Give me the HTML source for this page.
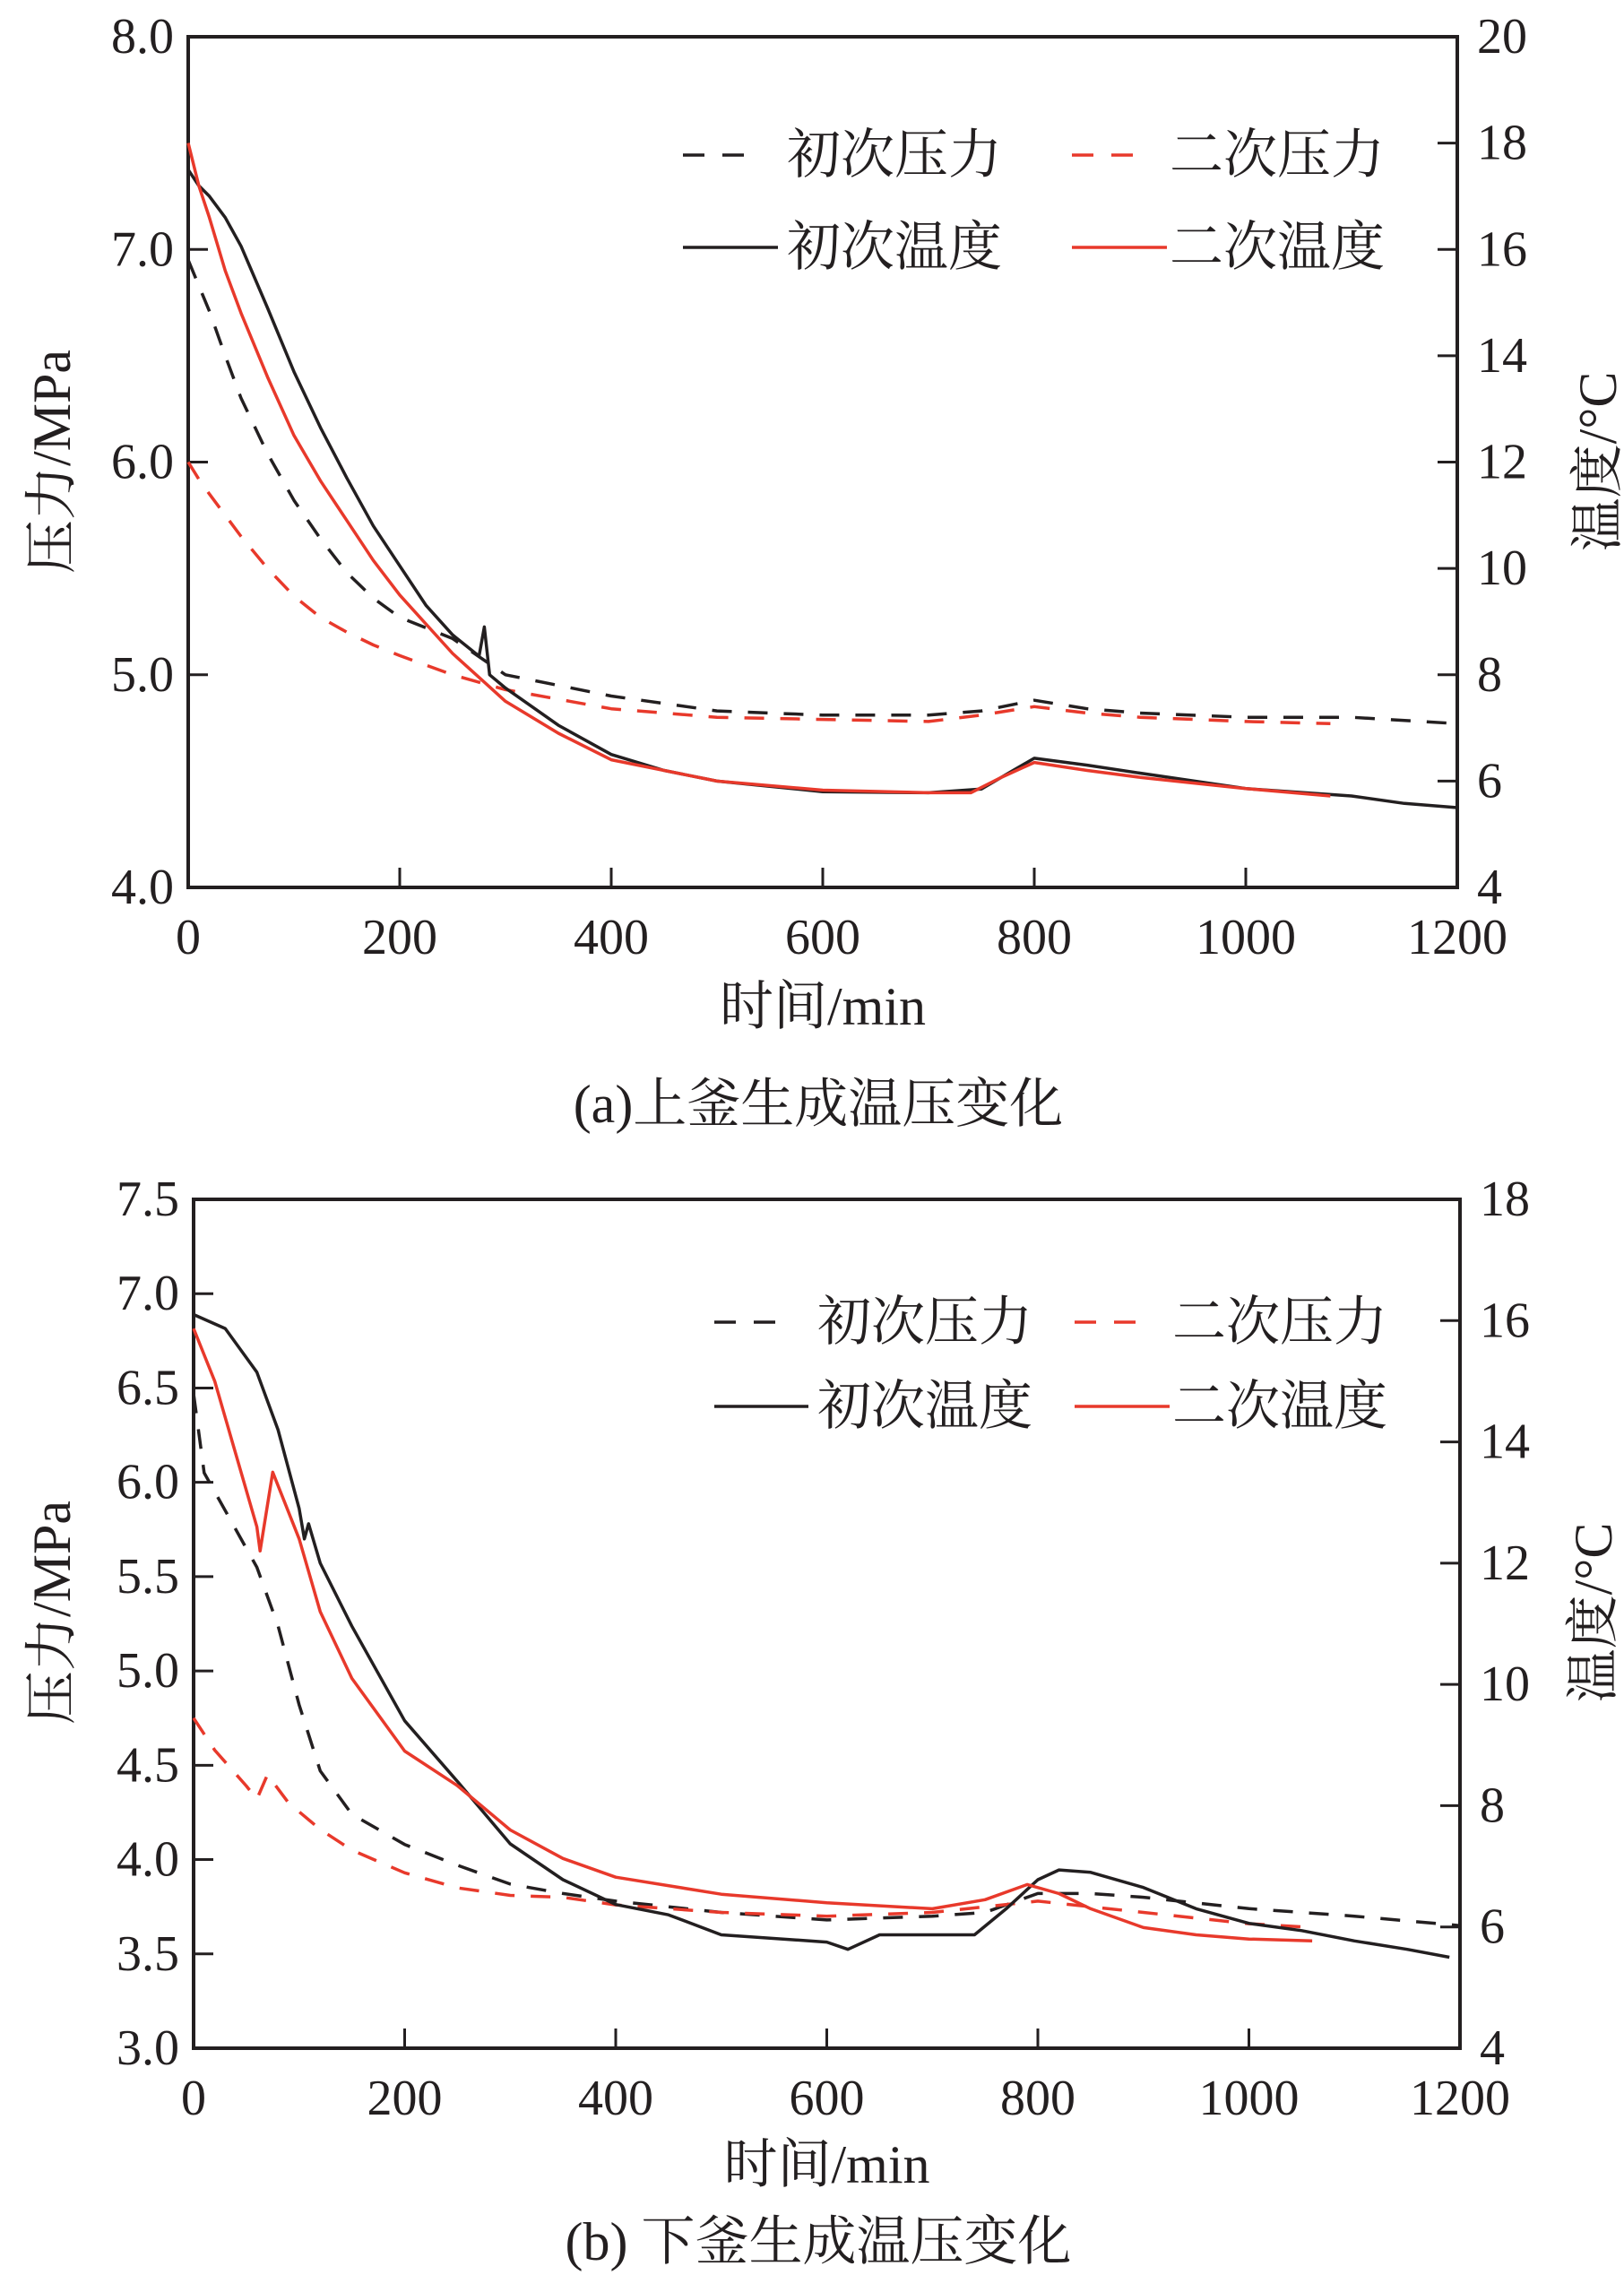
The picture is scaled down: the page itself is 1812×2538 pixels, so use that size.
<!DOCTYPE html>
<html><head><meta charset="utf-8"><style>
html,body{margin:0;padding:0;background:#fff;}
svg{display:block;}
text{font-family:"Liberation Serif","Noto Serif CJK SC","Noto Sans CJK SC",serif;fill:#231f20;}
</style></head><body>
<svg id="chart" width="1812" height="2538" viewBox="0 0 1812 2538" xmlns="http://www.w3.org/2000/svg"></svg>
<script>
// ---- data: top chart (a) ----
const aTime1T = [0,10,20,35,50,75,100,125,150,175,200,225,250,275,280,285,300,350,400,450,500,600,700,750,780,800,850,900,1000,1100,1150,1200];
const aTemp1 = [17.5,17.2,17.0,16.6,16.06,14.9,13.7,12.65,11.7,10.8,10.05,9.3,8.75,8.35,8.9,8.0,7.75,7.05,6.5,6.2,6.0,5.8,5.78,5.85,6.2,6.43,6.3,6.15,5.86,5.72,5.58,5.5];
const aTime2T = [0,10,20,35,50,75,100,125,150,175,200,250,300,350,400,500,600,700,740,770,800,850,900,1000,1080];
const aTemp2 = [18.0,17.2,16.6,15.6,14.8,13.6,12.5,11.65,10.9,10.15,9.5,8.4,7.5,6.9,6.4,6.0,5.83,5.78,5.78,6.08,6.35,6.2,6.07,5.86,5.72];
const aTime1P = [0,10,20,35,50,75,100,125,150,175,200,250,300,350,400,500,600,700,750,800,850,900,1000,1100,1200];
const aPres1 = [6.95,6.83,6.71,6.5,6.30,6.04,5.82,5.64,5.48,5.36,5.27,5.17,5.0,4.95,4.9,4.83,4.81,4.81,4.83,4.88,4.84,4.82,4.8,4.8,4.77];
const aTime2P = [0,10,20,35,50,75,100,125,150,175,200,250,300,400,500,600,700,750,800,850,900,1000,1080];
const aPres2 = [6.0,5.92,5.85,5.75,5.65,5.5,5.37,5.27,5.2,5.14,5.09,5.0,4.93,4.84,4.8,4.79,4.78,4.81,4.85,4.82,4.8,4.78,4.77];
const aXTicks = [0,200,400,600,800,1000,1200];
const aYLeftTicks = ["4.0","5.0","6.0","7.0","8.0"];
const aYRightTicks = ["4","6","8","10","12","14","16","18","20"];
// ---- data: bottom chart (b) ----
const bTime1T = [0,30,60,80,100,105,109,120,150,200,250,300,350,400,450,500,600,620,650,700,740,770,800,820,850,900,950,1000,1050,1100,1150,1190];
const bTemp1 = [16.1,15.87,15.15,14.2,12.9,12.4,12.65,12.0,10.96,9.4,8.4,7.37,6.78,6.37,6.2,5.87,5.75,5.63,5.87,5.87,5.87,6.3,6.78,6.94,6.9,6.65,6.3,6.06,5.94,5.77,5.63,5.5];
const bTime2T = [0,20,40,60,63,75,100,120,150,200,250,300,350,400,500,600,700,750,790,820,850,900,950,1000,1060];
const bTemp2 = [15.87,15.0,13.8,12.6,12.2,13.5,12.4,11.2,10.1,8.9,8.33,7.6,7.13,6.82,6.54,6.4,6.3,6.45,6.7,6.55,6.3,5.99,5.87,5.8,5.77];
const bTime1P = [0,10,30,60,80,100,120,150,200,250,300,350,400,500,600,700,750,800,850,900,1000,1100,1200];
const bPres1 = [6.47,6.05,5.85,5.55,5.24,4.82,4.47,4.24,4.08,3.97,3.87,3.82,3.78,3.72,3.68,3.7,3.72,3.82,3.82,3.8,3.74,3.7,3.65];
const bTime2P = [0,20,50,60,70,90,120,150,200,250,300,350,400,500,600,700,750,800,850,900,1000,1060];
const bPres2 = [4.75,4.58,4.39,4.32,4.45,4.3,4.16,4.05,3.93,3.85,3.81,3.8,3.76,3.72,3.7,3.72,3.75,3.78,3.75,3.72,3.66,3.64];
const bXTicks = [0,200,400,600,800,1000,1200];
const bYLeftTicks = ["3.0","3.5","4.0","4.5","5.0","5.5","6.0","6.5","7.0","7.5"];
const bYRightTicks = ["4","6","8","10","12","14","16","18"];

const svg = document.getElementById('chart');
const NS = 'http://www.w3.org/2000/svg';
function mk(tag, attrs, parent){
  const e = document.createElementNS(NS, tag);
  for (const k in attrs) e.setAttribute(k, attrs[k]);
  (parent||svg).appendChild(e);
  return e;
}
function txt(s, x, y, size, anchor, parent){
  const t = mk('text', {x:x, y:y, 'font-size':size, 'text-anchor':anchor||'middle', 'dominant-baseline':'central'}, parent);
  t.textContent = s;
  return t;
}

function drawChart(cfg){
  const g = mk('g', {});
  
  
  const L=cfg.L,R=cfg.R,T=cfg.T,B=cfg.B;
  const xs = t => L + (t-0)/1200*(R-L);
  const yl = p => B - (p-cfg.pMin)/(cfg.pMax-cfg.pMin)*(B-T);
  const yr = v => B - (v-cfg.tMin)/(cfg.tMax-cfg.tMin)*(B-T);
  const frame = mk('rect', {x:L, y:T, width:R-L, height:B-T, fill:'none', stroke:'#231f20', 'stroke-width':4}, g);
  
  
  cfg.xTicks.forEach(v => {
    const x = xs(v);
    mk('line', {x1:x, x2:x, y1:B, y2:B-22, stroke:'#231f20', 'stroke-width':3}, g);
    const t = txt(String(v), x, B+56, 56, 'middle', g);
    
    
  });
  cfg.yLeft.forEach(s => {
    const y = yl(parseFloat(s));
    mk('line', {x1:L, x2:L+22, y1:y, y2:y, stroke:'#231f20', 'stroke-width':3}, g);
    const t = txt(s, L-16, y, 56, 'end', g);
    
    
  });
  cfg.yRight.forEach(s => {
    const y = yr(parseFloat(s));
    mk('line', {x1:R, x2:R-22, y1:y, y2:y, stroke:'#231f20', 'stroke-width':3}, g);
    const t = txt(s, R+22, y, 56, 'start', g);
    
    
  });
  cfg.series.forEach(s => {
    const fy = s.axis==='left' ? yl : yr;
    const d = s.x.map((t,i)=>(i?'L':'M')+xs(t).toFixed(1)+' '+fy(s.y[i]).toFixed(1)).join(' ');
    const p = mk('path', {d:d, fill:'none', stroke:s.color, 'stroke-width':3.5, 'stroke-linejoin':'round'}, g);
    if (s.dash) p.setAttribute('stroke-dasharray', '22 18');
    
    
  });
  const lg = mk('g', {}, g);
  
  
  cfg.legend.forEach(e => {
    const ln = mk('line', {x1:e.x1, x2:e.x2, y1:e.y, y2:e.y, stroke:e.color, 'stroke-width':3.5}, lg);
    if (e.dash) ln.setAttribute('stroke-dasharray', '24 20');
    const t = txt(e.label, e.tx, e.y, 60, 'start', lg);
    
    
  });
  const xt = txt('时间/min', (L+R)/2, cfg.xTitleY, 60, 'middle', g);
  
  
  const ylt = txt('压力/MPa', 0, 0, 60, 'middle', g);
  ylt.setAttribute('transform', 'translate('+cfg.ylx+','+cfg.ycy+') rotate(-90)');
  
  
  const yrt = txt('温度/°C', 0, 0, 60, 'middle', g);
  yrt.setAttribute('transform', 'translate('+cfg.yrx+','+cfg.ycy+') rotate(-90)');
  
  
  const cap = txt(cfg.caption, 913, cfg.capY, 60, 'middle', g);
  
  
}

drawChart({name:'chart-a', L:210, R:1626, T:41, B:990, pMin:4, pMax:8, tMin:4, tMax:20,
  xTicks:aXTicks, yLeft:aYLeftTicks, yRight:aYRightTicks,
  series:[
    {name:'first-pressure-line', x:aTime1P, y:aPres1, axis:'left', color:'#231f20', dash:true},
    {name:'second-pressure-line', x:aTime2P, y:aPres2, axis:'left', color:'#e8392b', dash:true},
    {name:'first-temperature-line', x:aTime1T, y:aTemp1, axis:'right', color:'#231f20', dash:false},
    {name:'second-temperature-line', x:aTime2T, y:aTemp2, axis:'right', color:'#e8392b', dash:false}
  ],
  legend:[
    {x1:762,x2:843,y:173,tx:878,label:'初次压力',color:'#231f20',dash:true},
    {x1:1196,x2:1280,y:173,tx:1305,label:'二次压力',color:'#e8392b',dash:true},
    {x1:762,x2:868,y:276,tx:878,label:'初次温度',color:'#231f20',dash:false},
    {x1:1196,x2:1302,y:276,tx:1305,label:'二次温度',color:'#e8392b',dash:false}
  ],
  xTitleY:1123, ylx:58, yrx:1783, ycy:515, caption:'(a)上釜生成温压变化', capY:1232});

drawChart({name:'chart-b', L:216, R:1629, T:1338, B:2285, pMin:3, pMax:7.5, tMin:4, tMax:18,
  xTicks:bXTicks, yLeft:bYLeftTicks, yRight:bYRightTicks,
  series:[
    {name:'first-pressure-line', x:bTime1P, y:bPres1, axis:'left', color:'#231f20', dash:true},
    {name:'second-pressure-line', x:bTime2P, y:bPres2, axis:'left', color:'#e8392b', dash:true},
    {name:'first-temperature-line', x:bTime1T, y:bTemp1, axis:'right', color:'#231f20', dash:false},
    {name:'second-temperature-line', x:bTime2T, y:bTemp2, axis:'right', color:'#e8392b', dash:false}
  ],
  legend:[
    {x1:797,x2:875,y:1475,tx:912,label:'初次压力',color:'#231f20',dash:true},
    {x1:1199,x2:1280,y:1475,tx:1308,label:'二次压力',color:'#e8392b',dash:true},
    {x1:797,x2:902,y:1569,tx:912,label:'初次温度',color:'#231f20',dash:false},
    {x1:1199,x2:1305,y:1569,tx:1308,label:'二次温度',color:'#e8392b',dash:false}
  ],
  xTitleY:2415, ylx:58, yrx:1778, ycy:1799, caption:'(b) 下釜生成温压变化', capY:2501});
</script>
</body></html>
